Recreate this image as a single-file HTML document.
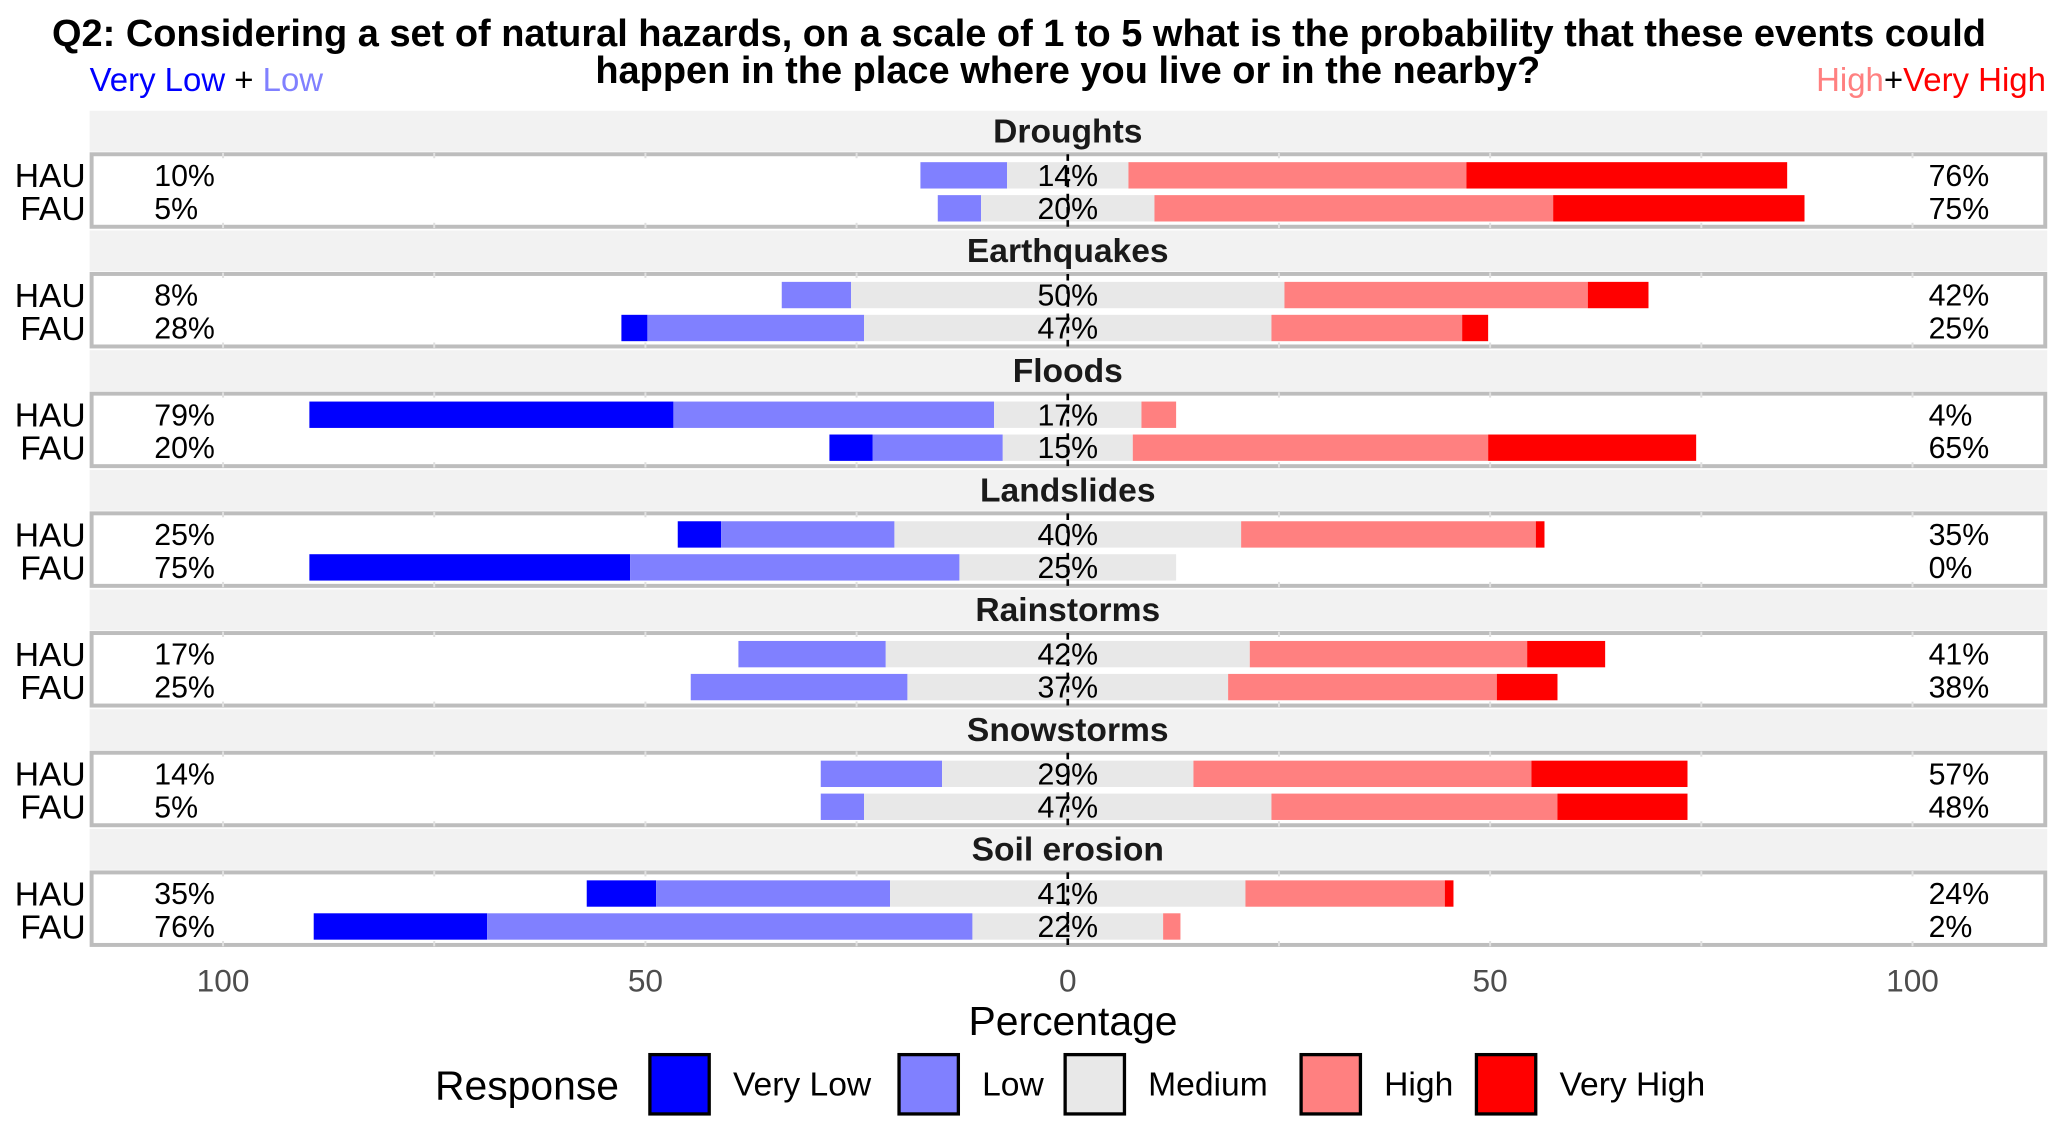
<!DOCTYPE html>
<html><head><meta charset="utf-8"><style>
html,body{margin:0;padding:0;background:#fff}
svg{display:block;font-family:"Liberation Sans",Arial,sans-serif}
</style></head><body>
<svg id="chart" width="2067" height="1134" viewBox="0 0 1568 860.2" xmlns="http://www.w3.org/2000/svg">
<rect width="1568" height="861" fill="#fff"/>
<text x="773" y="35" text-anchor="middle" font-size="28.8" font-weight="bold" fill="#000">Q2: Considering a set of natural hazards, on a scale of 1 to 5 what is the probability that these events could</text>
<text x="810" y="63" text-anchor="middle" font-size="28.8" font-weight="bold" fill="#000">happen in the place where you live or in the nearby?</text>
<text x="68" y="69" font-size="25"><tspan fill="#0000ff">Very Low</tspan><tspan fill="#000"> + </tspan><tspan fill="#8080ff">Low</tspan></text>
<text x="1552" y="69" font-size="25" text-anchor="end"><tspan fill="#ff8080">High</tspan><tspan fill="#000">+</tspan><tspan fill="#ff0000">Very High</tspan></text>
<g id="panels"></g>
<g id="axis"></g>
<text x="814" y="785" text-anchor="middle" font-size="31">Percentage</text>
<g id="legend"></g>
</svg>
<script>
const hazards = ["Droughts","Earthquakes","Floods","Landslides","Rainstorms","Snowstorms","Soil erosion"];
const groups = ["HAU","FAU"];
const veryLow = [[0,0],[0,3],[42,5],[5,37],[0,0],[0,0],[8,20]];
const low = [[10,5],[8,25],[37,15],[20,38],[17,25],[14,5],[27,56]];
const medium = [[14,20],[50,47],[17,15],[40,25],[42,37],[29,47],[41,22]];
const high = [[39,46],[35,22],[4,41],[34,0],[32,31],[39,33],[23,2]];
const veryHigh = [[37,29],[7,3],[0,24],[1,0],[9,7],[18,15],[1,0]];
const xTicks = [-100,-50,0,50,100];
const xTickLabels = ["100","50","0","50","100"];

const NS="http://www.w3.org/2000/svg";
const X0=810, K=6.408, KB=6.575;
const xs = v => X0 + v*K;
const xb = v => X0 + v*KB;
const PL=68, PR=1553, TOP=84, STEP=90.8;
function el(tag, attrs, parent){const e=document.createElementNS(NS,tag);for(const k in attrs)e.setAttribute(k,attrs[k]);parent.appendChild(e);return e;}
const panels=document.getElementById('panels');
const colors=["#0000ff","#8080ff","#e8e8e8","#ff8080","#ff0000"];
hazards.forEach((h,i)=>{
  const y0=TOP+i*STEP;
  const g=el('g',{},panels);
  
  
  const strip=el('rect',{x:PL,y:y0,width:PR-PL,height:31,fill:'#f2f2f2'},g);
  
  
  const st=el('text',{x:X0,y:y0+24,'text-anchor':'middle','font-size':25.5,'font-weight':'bold',fill:'#1a1a1a'},g);
  st.textContent=h;
  
  
  const by=y0+33;
  el('rect',{x:PL+1.5,y:by,width:PR-PL-3,height:55,fill:'#fff',stroke:'#bdbdbd','stroke-width':3},g);
  [-75,-50,-25,25,50,75,100,-100].forEach(t=>{el('line',{x1:xs(t),x2:xs(t),y1:by-1,y2:by+3,stroke:'#e0e0e0','stroke-width':1.5},g);el('line',{x1:xs(t),x2:xs(t),y1:by+52,y2:by+56,stroke:'#e0e0e0','stroke-width':1.5},g);});
  groups.forEach((gr,j)=>{
    const cy=by+16+j*25, bh=20;
    const vals=[veryLow[i][j],low[i][j],medium[i][j],high[i][j],veryHigh[i][j]];
    const m=vals[2];
    const segs=[[-m/2-vals[1]-vals[0],-m/2-vals[1]],[-m/2-vals[1],-m/2],[-m/2,m/2],[m/2,m/2+vals[3]],[m/2+vals[3],m/2+vals[3]+vals[4]]];
    segs.forEach((s,k)=>{ if(vals[k]<=0)return;
      const r=el('rect',{x:xb(s[0]),y:cy-bh/2,width:xb(s[1])-xb(s[0]),height:bh,fill:colors[k]},g);
      
      
    });
    const lab=el('text',{x:65,y:cy+9,'text-anchor':'end','font-size':25.5,fill:'#000'},g);
    lab.textContent=gr;
    
    
    const t1=el('text',{x:117,y:cy+8,'font-size':23},g);t1.textContent=(vals[0]+vals[1])+'%';
    
    
    const t2=el('text',{x:X0,y:cy+8,'text-anchor':'middle','font-size':23},g);t2.textContent=m+'%';
    
    
    const t3=el('text',{x:1463,y:cy+8,'font-size':23},g);t3.textContent=(vals[3]+vals[4])+'%';
    
    
  });
  el('line',{x1:X0,x2:X0,y1:by,y2:by+55,stroke:'#000','stroke-width':2,'stroke-dasharray':'5,5'},g);
});
const axis=document.getElementById('axis');
xTicks.forEach((t,i)=>{
  const tx=el('text',{x:xs(t),y:752,'text-anchor':'middle','font-size':24,fill:'#4d4d4d'},axis);
  tx.textContent=xTickLabels[i];
  
  
});
const legend=document.getElementById('legend');
const lt=el('text',{x:330,y:834,'font-size':31},legend);lt.textContent='Response';


const lkeys=["Very Low","Low","Medium","High","Very High"];
const lx=[492,681,807,986,1119];
lkeys.forEach((k,i)=>{
  const g=el('g',{},legend);
  
  
  el('rect',{x:lx[i]+1,y:800,width:45,height:45,fill:colors[i],stroke:'#000','stroke-width':2.5},g);
  const t=el('text',{x:lx[i]+64,y:831,'font-size':25.5},g);t.textContent=k;
});
</script>
</body></html>
